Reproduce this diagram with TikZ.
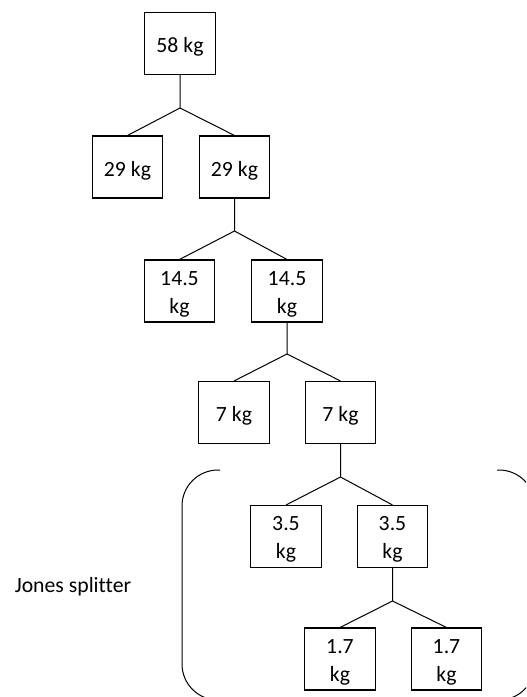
\documentclass[tikz,border=0pt]{standalone}
\usepackage{fontspec}
\setmainfont{Carlito}[Ligatures=NoCommon]

\begin{document}
\begin{tikzpicture}[x=0.75pt, y=-0.75pt]
	\tikzset{kgbox/.style={draw, line width=0.8pt, minimum width=53pt, minimum height=46.5pt,
			inner sep=0pt, align=center, font=\fontsize{16.3}{21}\selectfont,
			text height=13.5pt, text depth=0pt}}
	\tikzset{kgtwo/.style={kgbox, text height=33pt, text depth=0pt}}
	\tikzset{split/.style={line width=0.75pt}}
	\clip (0,0) rectangle (526,697);
	% masses
	\node [kgbox] (m58) at (180,43.5) {58 kg};
	\node [kgbox] (m29a) at (127.5,167) {29 kg};
	\node [kgbox] (m29b) at (234.5,167) {29 kg};
	\node [kgtwo] (m14a) at (179.5,291) {14.5\\kg};
	\node [kgtwo] (m14b) at (287,291) {14.5\\kg};
	\node [kgbox] (m7a) at (234,412.5) {7 kg};
	\node [kgbox] (m7b) at (340.5,412.5) {7 kg};
	\node [kgtwo] (m35a) at (286,536.5) {3.5\\kg};
	\node [kgtwo] (m35b) at (392.5,536.5) {3.5\\kg};
	\node [kgtwo] (m17a) at (340,659) {1.7\\kg};
	\node [kgtwo] (m17b) at (446.5,659) {1.7\\kg};
	% splits
	\coordinate (j1) at (180,108);
	\coordinate (j2) at (234.5,231);
	\coordinate (j3) at (287,354);
	\coordinate (j4) at (340.5,477);
	\coordinate (j5) at (392.5,601);
	\draw [split] (m58.south) -- (j1) -- (m29a.north);
	\draw [split] (j1) -- (m29b.north);
	\draw [split] (m29b.south) -- (j2) -- (m14a.north);
	\draw [split] (j2) -- (m14b.north);
	\draw [split] (m14b.south) -- (j3) -- (m7a.north);
	\draw [split] (j3) -- (m7b.north);
	\draw [split] (m7b.south) -- (j4) -- (m35a.north);
	\draw [split] (j4) -- (m35b.north);
	\draw [split] (m35b.south) -- (j5) -- (m17a.north);
	\draw [split] (j5) -- (m17b.north);
	% brackets round the splitter
	\draw [split, rounded corners=27pt] (220,470) -- (182,470) -- (182,700) -- (220,700);
	\draw [split, rounded corners=27pt] (497,470) -- (535,470) -- (535,700) -- (497,700);
	\node [font=\fontsize{16.3}{21}\selectfont] (jones) at (73,587) {Jones splitter};
\end{tikzpicture}
\end{document}
